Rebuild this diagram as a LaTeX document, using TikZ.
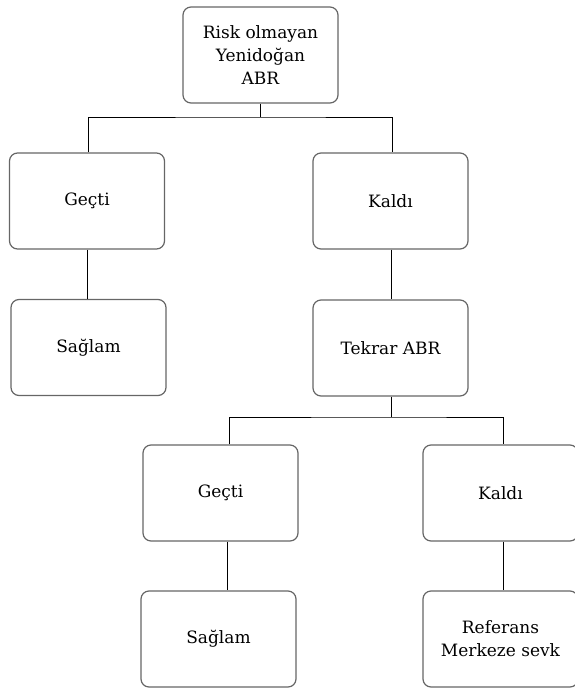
\documentclass[tikz,border=0pt]{standalone}
\usepackage{fontspec}
\setmainfont{DejaVu Serif}
\begin{document}
\begin{tikzpicture}[x=1pt,y=1pt,
  box/.style={draw=black!60, line width=1.2pt, rounded corners=8pt, minimum width=155pt, minimum height=96pt, align=center, font=\fontsize{17}{23}\selectfont, inner sep=0pt},
  conn/.style={draw=black, line width=0.9pt}]
\useasboundingbox (0,0) rectangle (575,-689);
\clip (0,0) rectangle (575,-689);
\node[box] (top) at (260.5,-55) {Risk olmayan\\Yenidoğan\\ABR};
\node[box] (g1) at (87,-201) {Geçti};
\node[box] (s1) at (88.5,-347.5) {Sağlam};
\node[box] (k1) at (390.5,-201) {Kaldı};
\node[box] (t1) at (390.5,-348) {Tekrar ABR};
\node[box] (g2) at (220.5,-493) {Geçti};
\node[box] (k2) at (500.5,-493) {Kaldı};
\node[box] (s2) at (218.5,-639) {Sağlam};
\node[box] (r2) at (500.5,-639) {Referans\\Merkeze sevk};
\coordinate (j1) at (260.5,-117);
\coordinate (j2) at (391,-417);
\draw[conn] (top.south) -- (j1);
\draw[conn] ([xshift=1pt]g1.north) |- (j1) -| ([xshift=1.5pt]k1.north);
\draw[conn] (g1.south) -- (g1.south |- s1.north);
\draw[conn] ([xshift=0.5pt]k1.south) -- ([xshift=0.5pt]k1.south |- t1.north);
\draw[conn] ([xshift=0.5pt]t1.south) -- (j2);
\draw[conn] ([xshift=8.5pt]g2.north) |- (j2) -| ([xshift=2.5pt]k2.north);
\draw[conn] ([xshift=6.5pt]g2.south) -- ([xshift=6.5pt]g2.south |- s2.north);
\draw[conn] ([xshift=2.5pt]k2.south) -- ([xshift=2.5pt]k2.south |- r2.north);
\end{tikzpicture}
\end{document}
